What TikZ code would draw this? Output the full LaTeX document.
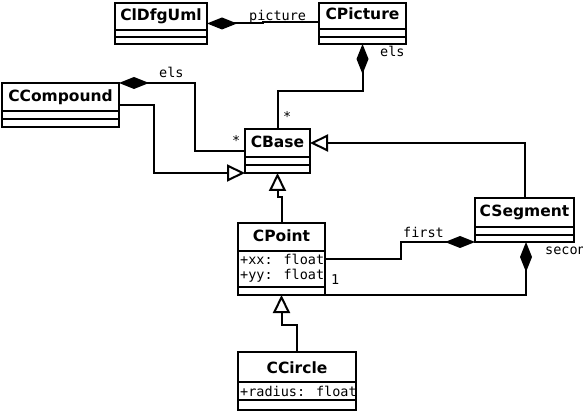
\documentclass[tikz,border=0pt]{standalone}
\usepackage{fontspec}
\setmainfont{DejaVu Sans}
\newfontfamily\monof{DejaVu Sans Mono}
\usetikzlibrary{arrows.meta}
\tikzset{
  clsbox/.style={draw, line width=2pt, anchor=north west, inner sep=0pt, outer sep=0pt, fill=white},
  cname/.style={anchor=base, inner sep=0pt, font=\fontsize{15.5}{18}\selectfont\bfseries},
  attr/.style={anchor=base west, inner sep=0pt, font=\monof\fontsize{13.5}{16}\selectfont},
  lbl/.style={anchor=base west, inner sep=0pt, font=\monof\fontsize{13.5}{16}\selectfont},
  sep/.style={line width=2pt},
  conn/.style={line width=2pt},
  comp/.style={conn, {Diamond[length=30pt,width=12pt]}-},
  gen/.style={conn, -{Triangle[open,length=18pt,width=17pt]}}
}
\begin{document}
\begin{tikzpicture}[x=1pt,y=-1pt]
\useasboundingbox (0,0) rectangle (583,411);
\clip (0,0) rectangle (583,411);
\fill[white] (0,0) rectangle (583,411);

% CIDfgUml
\node[clsbox, minimum width=92pt, minimum height=41pt] (uml) at (115,3) {};
\node[cname] (umln) at (161,21) {ClDfgUml};
\draw[sep] (115,30) -- (207,30) (115,37) -- (207,37);

% CPicture
\node[clsbox, minimum width=87pt, minimum height=41pt] (pic) at (319,3) {};
\node[cname] (picn) at (362.5,20) {CPicture};
\draw[sep] (319,29) -- (406,29) (319,37) -- (406,37);

% CCompound
\node[clsbox, minimum width=117pt, minimum height=44pt] (cmp) at (2,83) {};
\node[cname] (cmpn) at (60.5,102) {CCompound};
\draw[sep] (2,111) -- (119,111) (2,119) -- (119,119);

% CBase
\node[clsbox, minimum width=65pt, minimum height=44pt] (base) at (245,129) {};
\node[cname] (basen) at (277.5,148) {CBase};
\draw[sep] (245,157) -- (310,157) (245,165) -- (310,165);

% CSegment
\node[clsbox, minimum width=99pt, minimum height=44pt] (seg) at (475,198) {};
\node[cname] (segn) at (524.5,217) {CSegment};
\draw[sep] (475,227) -- (574,227) (475,235) -- (574,235);

% CPoint
\node[clsbox, minimum width=87pt, minimum height=72pt] (pt) at (238,223) {};
\node[cname] (ptn) at (281.5,242) {CPoint};
\draw[sep] (238,251) -- (325,251) (238,287) -- (325,287);
\node[attr] (ptxx) at (240,265) {+xx: float};
\node[attr] (ptyy) at (240,280) {+yy: float};

% CCircle
\node[clsbox, minimum width=118pt, minimum height=58pt] (circ) at (238,352) {};
\node[cname] (circn) at (297,373) {CCircle};
\draw[sep] (238,382) -- (356,382) (238,400) -- (356,400);
\node[attr] (circr) at (240,396) {+radius: float};

% connectors
\draw[comp] (uml.east) -- ++(56,0) |- ([yshift=1.5pt]pic.west);
\node[lbl] (lpicture) at (249,21) {picture};

\draw[comp] (pic.south) -- ++(0,47) -| (base.north);
\node[lbl] (lels1) at (380,57) {els};
\node[lbl] (lstar1) at (283,122) {*};

\draw[comp] (cmp.north east) -- ++(76,0) |- (base.west);
\node[lbl] (lels2) at (159,78) {els};
\node[lbl] (lstar2) at (232,146) {*};

\draw[gen] (cmp.east) -- ++(35,0) |- (base.south west);
\draw[gen] (seg.north) |- ([yshift=8pt]base.east);
\draw[gen] (pt.north) -- ++(0,-26) -| (base.south);

\draw[comp] (seg.south west) -- ++(-74,0) |- (pt.east);
\node[lbl] (lfirst) at (403,238) {first};

\draw[comp] ([xshift=1.5pt]seg.south) |- (pt.south east);
\node[lbl] (lsecond) at (545,255) {second};
\node[lbl] (lone) at (331,285) {1};

\draw[gen] (circ.north) -- ++(0,-27) -| (pt.south);
\end{tikzpicture}
\end{document}
